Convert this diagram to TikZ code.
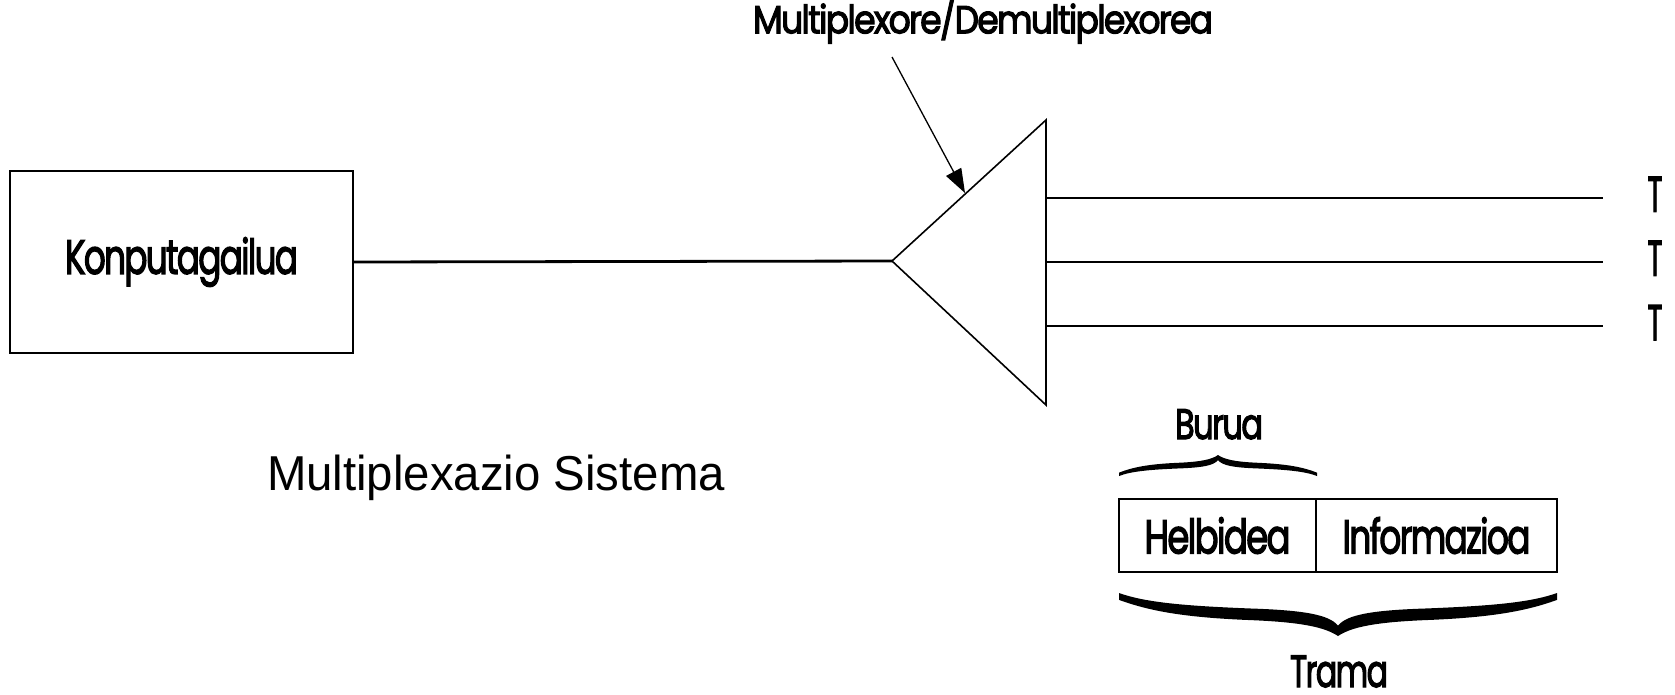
\documentclass[tikz,border=0pt]{standalone}
\usepackage{fontspec}
\usepackage{graphicx}
\usetikzlibrary{arrows.meta}
\newfontfamily\geo{Poppins}[LetterSpace=-5,FakeBold=3]
\newfontfamily\arialf{Liberation Sans}
\newcommand\myfit[3]{\begingroup\fontsize{#2pt}{#2pt}\selectfont\sbox0{#3}\pgfmathsetmacro\fitratio{#1/\the\wd0}\scalebox{\fitratio}[1]{\usebox0}\endgroup}
\tikzset{
  thinline/.style={line width=1.6pt},
  boxstyle/.style={draw, line width=1.6pt, inner sep=0pt, outer sep=0pt},
  txt/.style={inner sep=0pt, anchor=base},
  bracepic/.pic={
    \fill (0,0) .. controls (0.06,0.22) and (0.15,0.3) .. (0.3,0.36)
      .. controls (0.42,0.40) and (0.48,0.5) .. (0.5,0.76)
      .. controls (0.52,0.5) and (0.58,0.40) .. (0.7,0.36)
      .. controls (0.85,0.3) and (0.94,0.22) .. (1,0)
      -- (1,0.16)
      .. controls (0.93,0.42) and (0.85,0.57) .. (0.7,0.63)
      .. controls (0.58,0.68) and (0.53,0.8) .. (0.5,1)
      .. controls (0.47,0.8) and (0.42,0.68) .. (0.3,0.63)
      .. controls (0.15,0.57) and (0.07,0.42) .. (0,0.16) -- cycle;
  }
}
\begin{document}
\begin{tikzpicture}[x=1pt,y=-1pt]
\useasboundingbox (0,0) rectangle (1675,694);
% computer box
\node[boxstyle, minimum width=343pt, minimum height=182pt] (comp) at (181.5,262) {\myfit{233}{48}{\geo Konputagailua}};
% triangle
\coordinate (apex) at (892,261);
\coordinate (ttop) at (1046,120);
\coordinate (tbot) at (1046,405);
\draw[thinline] (apex) -- (ttop) -- (tbot) -- cycle;
\draw[line width=2.8pt] (comp.east) -- (apex);
% output lines
\coordinate (s1) at (1046,198); \coordinate (e1) at (1603,198);
\coordinate (s2) at (1046,262); \coordinate (e2) at (1603,262);
\coordinate (s3) at (1046,326); \coordinate (e3) at (1603,326);
\draw[thinline] (s1) -- (e1);
\draw[thinline] (s2) -- (e2);
\draw[thinline] (s3) -- (e3);
\node[txt] (t1) at (1655,211.7) {\myfit{15}{50}{\geo T}};
\node[txt] (t2) at (1655,275.7) {\myfit{15}{50}{\geo T}};
\node[txt] (t3) at (1655,340) {\myfit{15}{50}{\geo T}};
% title and arrow
\node[txt] (title) at (983,33.3) {\myfit{460}{39}{\geo Multiplexore/Demultiplexorea}};
\coordinate (a0) at (892,57);
\coordinate (a1) at (965,193);
\draw[line width=1.3pt, -{Triangle[length=24pt,width=17pt]}] (a0) -- (a1);
% system label
\node[txt] (sys) at (496,490) {\myfit{458}{49}{\arialf Multiplexazio Sistema}};
% frame
\node[boxstyle, minimum width=197pt, minimum height=73pt] (helb) at (1217.5,535.5) {\myfit{146}{47.5}{\geo Helbidea}};
\node[boxstyle, minimum width=241pt, minimum height=73pt] (info) at (1436.5,535.5) {\myfit{188}{47.5}{\geo Informazioa}};
% braces
\pic[shift={(1119,476)}, xscale=198, yscale=-21] {bracepic};
\node[txt] (burua) at (1219,439) {\myfit{88}{42.5}{\geo Burua}};
\pic[shift={(1119,593)}, xscale=438, yscale=43] {bracepic};
\node[txt] (trama) at (1339,687) {\myfit{98}{45}{\geo Trama}};
\end{tikzpicture}
\end{document}
